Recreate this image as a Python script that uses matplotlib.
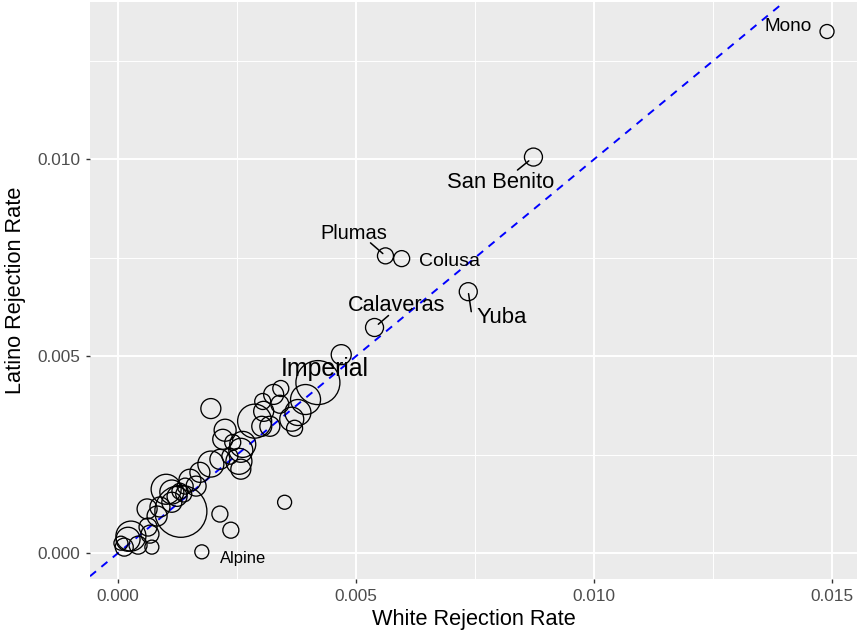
import matplotlib.pyplot as plt
from matplotlib.ticker import MultipleLocator
import numpy as np

plt.rcParams['font.family'] = ['Liberation Sans', 'DejaVu Sans']

# county rates (white vs latino) and a size variable (latino population, thousands)
county = ['Mono', 'San Benito', 'Plumas', 'Colusa', 'Yuba', 'Calaveras', 'Imperial', 'Alpine',
          '', '', '', '', '',
          '', '', '', '', '', '', '', '', '', '', '', '',
          '', '', '', '', '', '', '', '', '', '', '', '', '', '',
          '', '', '', '', '', '', '', '', '', '',
          '', '', '', '', '', '', '', '']
white_rate = [0.01490, 0.00873, 0.00562, 0.00596, 0.00736, 0.00539, 0.00420, 0.00176,
              0.00469, 0.00195, 0.00214, 0.00237, 0.00350,
              0.00394, 0.00378, 0.00371, 0.00342, 0.00327, 0.00304, 0.00306, 0.00340, 0.00287, 0.00319, 0.00365, 0.00302,
              0.00225, 0.00220, 0.00262, 0.00258, 0.00241, 0.00254, 0.00258, 0.00214, 0.00195, 0.00235, 0.00172, 0.00151, 0.00164, 0.00141,
              0.00132, 0.00101, 0.00113, 0.00124, 0.00130, 0.00138, 0.00113, 0.00088, 0.00061, 0.00082,
              0.00013, 0.00021, 0.00027, 0.00006, 0.00042, 0.00067, 0.00071, 0.00063]
latino_rate = [0.01325, 0.01006, 0.00755, 0.00748, 0.00664, 0.00573, 0.00433, 0.00003,
               0.00504, 0.00367, 0.00099, 0.00058, 0.00129,
               0.00390, 0.00357, 0.00317, 0.00418, 0.00403, 0.00385, 0.00360, 0.00378, 0.00335, 0.00322, 0.00340, 0.00322,
               0.00312, 0.00289, 0.00276, 0.00261, 0.00281, 0.00233, 0.00213, 0.00238, 0.00226, 0.00246, 0.00205, 0.00185, 0.00170, 0.00170,
               0.00106, 0.00162, 0.00155, 0.00144, 0.00157, 0.00150, 0.00129, 0.00117, 0.00112, 0.00094,
               0.00015, 0.00035, 0.00043, 0.00025, 0.00020, 0.00048, 0.00015, 0.00066]
latino_pop = [355, 587, 464, 464, 587, 587, 3508, 355,
              725, 725, 464, 464, 355,
              1631, 1225, 464, 464, 725, 464, 725, 587, 2095, 725, 1044, 725,
              877, 725, 1225, 1044, 464, 1225, 725, 725, 1225, 464, 725, 877, 725, 464,
              4900, 1631, 1044, 725, 464, 464, 725, 725, 725, 725,
              587, 1044, 1631, 355, 587, 587, 355, 587]

x = np.array(white_rate)
y = np.array(latino_rate)
pop = np.array(latino_pop)

# radius in px ~ sqrt(pop); s in points^2
r_px = 26 * np.sqrt(pop / pop.max())
sizes = (2 * r_px * 0.72) ** 2

fig = plt.figure(figsize=(8.58, 6.32), dpi=100)
ax = fig.add_axes([90 / 858, 1 - 579 / 632, 767 / 858, 577 / 632])
ax.set_facecolor('#EBEBEB')
for s in ax.spines.values():
    s.set_visible(False)

ax.xaxis.set_major_locator(MultipleLocator(0.005))
ax.yaxis.set_major_locator(MultipleLocator(0.005))
ax.xaxis.set_minor_locator(MultipleLocator(0.0025))
ax.yaxis.set_minor_locator(MultipleLocator(0.0025))
ax.grid(which='major', color='white', lw=1.4)
ax.grid(which='minor', color='white', lw=0.7)
ax.set_axisbelow(True)
ax.tick_params(which='minor', length=0)
ax.tick_params(which='major', length=3, width=1, color='#333333',
               labelsize=12.4, labelcolor='#4D4D4D', pad=4)

ax.set_xlim(-0.00059, 0.01553)
ax.set_ylim(-0.00066, 0.01400)
ax.xaxis.set_major_formatter(plt.FuncFormatter(lambda v, p: f'{v:.3f}'))
ax.yaxis.set_major_formatter(plt.FuncFormatter(lambda v, p: f'{v:.3f}'))

ax.axline((0, 0), slope=1, color='#0000FF', lw=1.4, ls=(0, (4, 3.6)), zorder=3)

ax.scatter(x, y, s=sizes, facecolors='none', edgecolors='black', linewidths=0.95, zorder=4)

# label text offset (px right, px down) and font size
lab = {
    'Mono': (-39, -5, 13.7),
    'San Benito': (-33, 25, 15.8),
    'Plumas': (-32, -22, 14.4),
    'Colusa': (48, 3, 14.0),
    'Yuba': (33, 26, 15.9),
    'Calaveras': (22, -22, 15.6),
    'Imperial': (7, -14, 17.9),
    'Alpine': (41, 7, 11.9),
}
# repel segments: far end (px right, px down), gap from point centre (px)
segs = {
    'San Benito': (-16, 13, 6),
    'Plumas': (-15, -13, 3.5),
    'Yuba': (3, 20, 2),
    'Calaveras': (14, -12, 5),
}
for i, name in enumerate(county):
    if name not in lab:
        continue
    dx, dy, fs = lab[name]
    ax.annotate(name, (x[i], y[i]), xytext=(dx * 0.72, -dy * 0.72), textcoords='offset points',
                ha='center', va='center', fontsize=fs, color='black', zorder=5)
    if name in segs:
        ex, ey, gap = segs[name]
        ax.annotate('', (x[i], y[i]), xytext=(ex * 0.72, -ey * 0.72), textcoords='offset points',
                    arrowprops=dict(arrowstyle='-', color='black', lw=1.1,
                                    shrinkA=0, shrinkB=gap * 0.72), zorder=5)

ax.set_xlabel('White Rejection Rate', fontsize=15.7, labelpad=4)
ax.set_ylabel('Latino Rejection Rate', fontsize=15.7, labelpad=8)

fig.savefig('out.png', dpi=100)
